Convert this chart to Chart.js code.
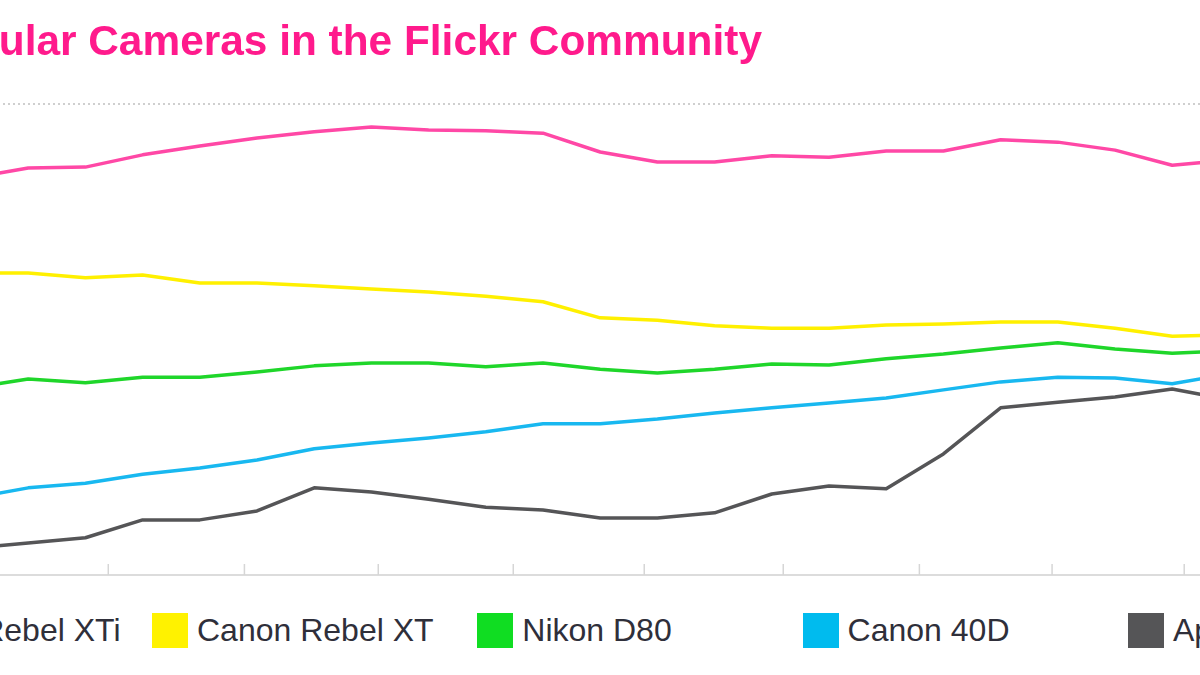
<!DOCTYPE html>
<html>
<head>
<meta charset="utf-8">
<script src="https://cdn.jsdelivr.net/npm/chart.js@4"></script>
<style>
  html, body { margin: 0; padding: 0; background: #fff; overflow: hidden; }
  body { width: 1200px; height: 675px; position: relative; }
  #wrap { position: absolute; left: -220px; top: 0; width: 1621px; height: 600px; }
  #legend { position: absolute; left: -167px; top: 612px; display: flex; white-space: nowrap; }
  .item { width: 325.3px; display: flex; align-items: center; height: 36px;
          font-family: "Liberation Sans", Arial, sans-serif; font-size: 32px; color: #2f2f3a; }
  .item:first-child { width: 319px; }
  .box { width: 36px; height: 35px; margin-right: 9px; flex: none; }
</style>
</head>
<body>
<div id="wrap"><canvas id="chart"></canvas></div>
<div id="legend"></div>
<script>
// data points (one every period), index -1 and 21 run past the visible edges
const periods = [-1, 0, 1, 2, 3, 4, 5, 6, 7, 8, 9, 10, 11, 12, 13, 14, 15, 16, 17, 18, 19, 20, 21];

const rebelXTi = [84.3, 86.4, 86.6, 89.2, 91.1, 92.8, 94.1, 95.1, 94.5, 94.3, 93.8, 89.8, 87.7, 87.7, 89.0, 88.7, 90.0, 90.0, 92.4, 91.9, 90.2, 87.0, 88.1];
const rebelXT  = [64.1, 64.1, 63.1, 63.7, 62.0, 62.0, 61.4, 60.7, 60.1, 59.2, 58.0, 54.6, 54.1, 52.9, 52.4, 52.4, 53.1, 53.3, 53.7, 53.7, 52.4, 50.7, 51.0];
const nikonD80 = [39.7, 41.6, 40.8, 42.0, 42.0, 43.1, 44.4, 45.0, 45.0, 44.2, 45.0, 43.7, 42.9, 43.7, 44.8, 44.6, 45.9, 46.9, 48.2, 49.3, 48.0, 47.1, 47.6];
const canon40D = [16.3, 18.5, 19.5, 21.4, 22.7, 24.4, 26.8, 28.0, 29.1, 30.4, 32.1, 32.1, 33.1, 34.4, 35.5, 36.5, 37.6, 39.3, 41.0, 42.0, 41.8, 40.6, 42.7];
const iPhone   = [5.7, 6.8, 7.9, 11.7, 11.7, 13.6, 18.5, 17.6, 16.1, 14.4, 13.8, 12.1, 12.1, 13.2, 17.2, 18.9, 18.3, 25.7, 35.5, 36.7, 37.8, 39.5, 37.2];

// month ticks on the x axis (in period units)
const monthTicks = [1.4, 3.78, 6.12, 8.48, 10.77, 13.2, 15.58, 17.9, 20.21];

const names  = ["Canon Rebel XTi", "Canon Rebel XT", "Nikon D80", "Canon 40D", "Apple iPhone"];
const colors = ["#ff48a6", "#fff000", "#1fd62a", "#18b8f0", "#555557"];
const boxColors = ["#ff3399", "#fff200", "#10dd22", "#00bbee", "#555557"];
const series = [rebelXTi, rebelXT, nikonD80, canon40D, iPhone];

// little tick marks standing up from the base line
const innerTicks = {
    id: "innerTicks",
    afterDatasetsDraw(chart) {
        const x = chart.scales.x;
        const bottom = chart.chartArea.bottom;
        const ctx = chart.ctx;
        ctx.save();
        ctx.strokeStyle = "#d6d6d6";
        ctx.lineWidth = 1.5;
        monthTicks.forEach(t => {
            let px = x.getPixelForValue(t);
            ctx.beginPath();
            ctx.moveTo(px, bottom);
            ctx.lineTo(px, bottom - 11);
            ctx.stroke();
        });
        ctx.restore();
    }
};

new Chart(document.getElementById("chart"), {
    type: "line",
    data: {
        datasets: series.map((s, i) => ({
            label: names[i],
            data: s.map((v, j) => ({ x: periods[j], y: v })),
            borderColor: colors[i],
            backgroundColor: colors[i],
            borderWidth: 3.5,
            pointRadius: 0,
            tension: 0,
            borderJoinStyle: "round"
        }))
    },
    options: {
        responsive: true,
        maintainAspectRatio: false,
        animation: false,
        layout: { padding: { left: 28, right: 0, top: 0, bottom: 25 } },
        plugins: {
            legend: { display: false },
            tooltip: { enabled: false },
            title: {
                display: true,
                text: "Most Popular Cameras in the Flickr Community",
                align: "start",
                color: "#ff1a8c",
                font: { family: "Liberation Sans", size: 42.4, weight: "bold", lineHeight: 1.2 },
                padding: { top: 18, bottom: 35.1 }
            }
        },
        scales: {
            x: {
                type: "linear",
                min: -3.5,
                max: 24,
                grid: { display: false, drawTicks: false },
                ticks: { display: false },
                border: { display: true, color: "#dcdcdc", width: 2 }
            },
            y: {
                min: 0,
                max: 100,
                afterFit: axis => { axis.width = 20; },
                ticks: { display: false, stepSize: 100 },
                grid: {
                    drawTicks: false,
                    lineWidth: 2,
                    color: c => c.tick && c.tick.value === 100 ? "#cfcfcf" : "rgba(0,0,0,0)"
                },
                border: { display: false, dash: [2, 3] }
            }
        }
    },
    plugins: [innerTicks]
});

// legend in fixed-width columns like the original
let legend = document.getElementById("legend");
names.forEach((n, i) => {
    let item = document.createElement("div");
    item.className = "item";
    let box = document.createElement("div");
    box.className = "box";
    box.style.background = boxColors[i];
    let label = document.createElement("span");
    label.textContent = n;
    item.appendChild(box);
    item.appendChild(label);
    legend.appendChild(item);
});
</script>
</body>
</html>
